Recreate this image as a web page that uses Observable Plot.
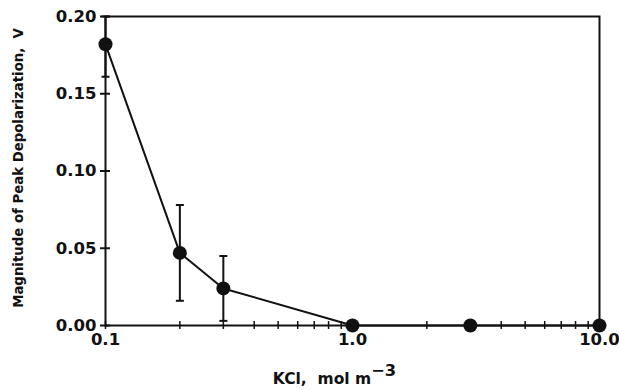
<!DOCTYPE html>
<html>
<head>
<meta charset="utf-8">
<script src="https://cdn.jsdelivr.net/npm/d3@7"></script>
<script src="https://cdn.jsdelivr.net/npm/@observablehq/plot@0.6"></script>
<style>
  body { margin: 0; background: #fff; }
  svg { font-family: "DejaVu Sans", sans-serif; font-weight: bold; }
</style>
</head>
<body>
<div id="chart"></div>
<script>
const kcl = [0.1, 0.2, 0.3, 1.0, 3.0, 10.0];
const depol = [0.182, 0.047, 0.024, 0.0, 0.0, 0.0];
const errLow = [0.161, 0.016, 0.003, null, null, null];
const errHigh = [0.200, 0.078, 0.045, null, null, null];
const xMajorTicks = [0.1, 1.0, 10.0];
const xMinorTicks = [0.2, 0.3, 0.4, 0.5, 0.6, 0.7, 0.8, 0.9, 2, 3, 4, 5, 6, 7, 8, 9];
const yTicks = [0, 0.05, 0.10, 0.15, 0.20];
const xLabel = "KCl,  mol m";
const xLabelSup = "−3";
const yLabel = "Magnitude of Peak Depolarization,  V";

const data = kcl.map((x, i) => ({x, y: depol[i], lo: errLow[i], hi: errHigh[i]}));
const errs = data.filter(d => d.lo != null);
const capSymbol = {draw(ctx, size) { const r = 4; ctx.moveTo(-r, 0); ctx.lineTo(r, 0); }};

const chart = Plot.plot({
  width: 619,
  height: 390,
  marginLeft: 105,
  marginRight: 20,
  marginTop: 16,
  marginBottom: 65,
  style: {fontFamily: "DejaVu Sans, sans-serif", fontWeight: "bold", color: "#111", background: "#fff"},
  x: {type: "log", domain: [0.1, 10]},
  y: {domain: [0, 0.2]},
  marks: [
    Plot.frame({stroke: "#111", strokeWidth: 2}),
    Plot.axisY({ticks: yTicks, tickSize: 10, dx: 5, tickFormat: () => "", strokeWidth: 2, label: null}),
    Plot.axisY({ticks: yTicks, tickSize: 0, tickPadding: 9, tickFormat: d3.format(".2f"), fontSize: 16.5, label: null}),
    Plot.axisX({ticks: xMajorTicks.concat(xMinorTicks), tickSize: 8, dy: -4, tickFormat: () => "", strokeWidth: 1.5, label: null}),
    Plot.axisX({ticks: xMajorTicks, tickSize: 0, tickPadding: 8, tickFormat: d3.format(".1f"), fontSize: 16.5, label: null}),
    Plot.ruleX(errs, {x: "x", y1: "lo", y2: "hi", stroke: "#111", strokeWidth: 2}),
    Plot.dot(errs, {x: "x", y: "lo", symbol: capSymbol, stroke: "#111", strokeWidth: 2, fill: "none"}),
    Plot.dot(errs, {x: "x", y: "hi", symbol: capSymbol, stroke: "#111", strokeWidth: 2, fill: "none"}),
    Plot.line(data, {x: "x", y: "y", curve: "linear", stroke: "#111", strokeWidth: 2}),
    Plot.dot(data, {x: "x", y: "y", r: 7, fill: "#111", stroke: "none"}),
    Plot.text([yLabel], {frameAnchor: "left", dx: -87, dy: -3, rotate: -90, textAnchor: "middle", fontSize: 13.3, fill: "#111", text: d => d}),
    Plot.text([xLabel], {frameAnchor: "bottom", dx: -18, dy: 58, textAnchor: "middle", lineAnchor: "bottom", fontSize: 15.5, fill: "#111", text: d => d})
  ]
});
document.getElementById("chart").appendChild(chart);

// add superscript to x label
d3.select(chart).selectAll("text").filter(function() { return this.textContent === xLabel; })
  .append("tspan").attr("dy", "-0.45em").attr("font-size", "1.05em").text(xLabelSup);
</script>
</body>
</html>
